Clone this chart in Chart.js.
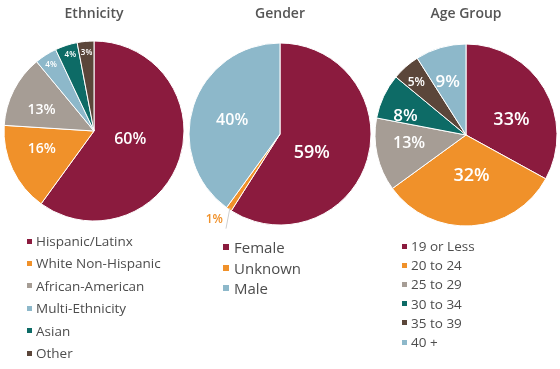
<!DOCTYPE html>
<html>
<head>
<meta charset="utf-8">
<script src="https://cdn.jsdelivr.net/npm/chart.js@4.4.0/dist/chart.umd.min.js"></script>
<style>
  html, body { margin: 0; padding: 0; background: #fff; }
  #wrap { position: relative; width: 560px; height: 369px; overflow: hidden; font-family: "Open Sans", sans-serif; }
  canvas { position: absolute; top: 0; }
  .leg { position: absolute; color: #4d4d4d; font-weight: 500; }
  .row { position: absolute; white-space: nowrap; display: flex; align-items: center; }
  .sw { display: inline-block; }
</style>
</head>
<body>
<div id="wrap">
  <canvas id="c1" width="188" height="262" style="left:0px"></canvas>
  <canvas id="c2" width="188" height="262" style="left:186px"></canvas>
  <canvas id="c3" width="188" height="262" style="left:372px"></canvas>
  <div id="l1" class="leg"></div>
  <div id="l2" class="leg"></div>
  <div id="l3" class="leg"></div>
</div>
<script>
// ---- data ----
const ethLabels = ['Hispanic/Latinx', 'White Non-Hispanic', 'African-American', 'Multi-Ethnicity', 'Asian', 'Other'];
const ethValues = [60, 16, 13, 4, 4, 3];
const genderLabels = ['Female', 'Unknown', 'Male'];
const genderValues = [59, 1, 40];
const ageLabels = ['19 or Less', '20 to 24', '25 to 29', '30 to 34', '35 to 39', '40 +'];
const ageValues = [33, 32, 13, 8, 5, 9];
const titles = ['Ethnicity', 'Gender', 'Age Group'];

// ---- styles ----
const C = { maroon: '#8b1b3e', orange: '#f0912a', gray: '#a69d95', lblue: '#8db8ca', teal: '#0d6b66', brown: '#5b463a' };
const ethColors = [C.maroon, C.orange, C.gray, C.lblue, C.teal, C.brown];
const genderColors = [C.maroon, C.orange, C.lblue];
const ageColors = [C.maroon, C.orange, C.gray, C.teal, C.brown, C.lblue];
// label placement: [radius fraction, angle nudge (deg), callout]
const ethLabelPos = [[0.41, -7], [0.61, 7], [0.63, -4.5], [0.89, 0], [0.9, 1], [0.88, 0]];
const ethLabelSize = [16, 14, 14, 8, 8, 8];
const genderLabelPos = [[0.4, 13], [1.0, 0, true], [0.55, -1]];
const genderLabelSize = [18, 12, 16];
const ageLabelPos = [[0.53, 11], [0.44, -4.4], [0.63, 5.6], [0.70, -7], [0.8, -1.6], [0.62, -2.8]];
const ageLabelSize = [18, 18, 16, 17, 12, 17];

const sliceLabels = {
  id: 'sliceLabels',
  afterDatasetsDraw(chart, args, opts) {
    const ctx = chart.ctx;
    const meta = chart.getDatasetMeta(0);
    const ds = chart.data.datasets[0];
    meta.data.forEach((arc, i) => {
      const p = arc.getProps(['x', 'y', 'startAngle', 'endAngle', 'outerRadius'], true);
      const pos = opts.pos[i];
      const midExact = (p.startAngle + p.endAngle) / 2;
      const txt = ds.data[i] + '%';
      ctx.save();
      ctx.font = '600 ' + opts.size[i] + 'px "Open Sans"';
      ctx.textBaseline = 'middle';
      if (pos[2]) {
        const ex = p.x + Math.cos(midExact) * (p.outerRadius - 2);
        const ey = p.y + Math.sin(midExact) * (p.outerRadius - 2);
        ctx.strokeStyle = '#cfcfcf';
        ctx.lineWidth = 1;
        ctx.beginPath();
        ctx.moveTo(ex, ey);
        ctx.lineTo(ex - 4, ey + 21);
        ctx.stroke();
        ctx.fillStyle = ds.backgroundColor[i];
        ctx.textAlign = 'right';
        ctx.fillText(txt, ex - 7, ey + 12);
      } else {
        const mid = midExact + pos[1] * Math.PI / 180;
        const r = p.outerRadius * pos[0];
        ctx.fillStyle = '#ffffff';
        ctx.textAlign = 'center';
        ctx.fillText(txt, p.x + Math.cos(mid) * r, p.y + Math.sin(mid) * r + 1);
      }
      ctx.restore();
    });
  }
};

function makePie(id, title, labels, values, colors, pos, size, cy, rad) {
  const H = 262;
  const top = 6 + 14 * 1.2 + 10;
  const padBottom = H - (2 * cy - top);
  new Chart(document.getElementById(id), {
    type: 'pie',
    data: {
      labels: labels,
      datasets: [{
        data: values,
        backgroundColor: colors,
        borderColor: '#ffffff',
        borderWidth: 1,
        radius: rad
      }]
    },
    options: {
      responsive: false,
      animation: false,
      events: [],
      layout: { padding: { top: 0, left: 0, right: 0, bottom: padBottom } },
      plugins: {
        legend: { display: false },
        tooltip: { enabled: false },
        title: {
          display: true,
          text: title,
          color: '#555555',
          font: { family: '"Open Sans"', size: 14, weight: '600', lineHeight: 1.2 },
          padding: { top: 6, bottom: 10 }
        },
        sliceLabels: { pos: pos, size: size }
      }
    },
    plugins: [sliceLabels]
  });
}

makePie('c1', titles[0], ethLabels, ethValues, ethColors, ethLabelPos, ethLabelSize, 131, 90);
makePie('c2', titles[1], genderLabels, genderValues, genderColors, genderLabelPos, genderLabelSize, 134, 91);
makePie('c3', titles[2], ageLabels, ageValues, ageColors, ageLabelPos, ageLabelSize, 135, 91);

function makeLegend(id, labels, colors, cfg) {
  const el = document.getElementById(id);
  labels.forEach((lab, i) => {
    const row = document.createElement('div');
    row.className = 'row';
    row.style.left = cfg.x + 'px';
    row.style.top = (cfg.y0 + i * cfg.dy - 10) + 'px';
    row.style.height = '20px';
    row.style.fontSize = cfg.font + 'px';
    const sw = document.createElement('span');
    sw.className = 'sw';
    sw.style.width = cfg.box + 'px';
    sw.style.height = cfg.box + 'px';
    sw.style.background = colors[i];
    sw.style.marginRight = cfg.gap + 'px';
    const t = document.createElement('span');
    t.textContent = lab;
    row.appendChild(sw);
    row.appendChild(t);
    el.appendChild(row);
  });
}
makeLegend('l1', ethLabels, ethColors, { x: 27, y0: 241, dy: 22.4, font: 13.5, box: 5, gap: 4 });
makeLegend('l2', genderLabels, genderColors, { x: 223, y0: 247, dy: 20.5, font: 15, box: 6, gap: 5 });
makeLegend('l3', ageLabels, ageColors, { x: 402, y0: 246, dy: 19.2, font: 13.5, box: 5, gap: 4 });
</script>
</body>
</html>
